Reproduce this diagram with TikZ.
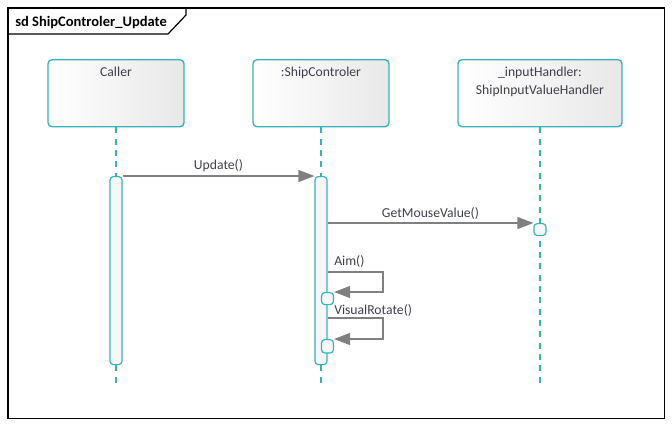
\documentclass[tikz,border=0pt]{standalone}
\usepackage{fontspec}
\setmainfont{Carlito}
\usetikzlibrary{arrows.meta,calc}
\definecolor{lifeteal}{RGB}{52,180,186}
\definecolor{msggray}{RGB}{128,128,128}
\definecolor{txtgray}{RGB}{64,64,76}
\tikzset{
  headbox/.style={draw=lifeteal, line width=1pt, rounded corners=3pt,
    left color=white, right color=black!9, minimum width=#1,
    minimum height=50.25pt, anchor=north, inner sep=0pt},
  headtext/.style={text=txtgray, font=\fontsize{10.25}{13.5}\selectfont, anchor=north, align=center, inner sep=0pt},
  actbox/.style={draw=lifeteal, line width=0.9pt, rounded corners=2.5pt,
    fill=black!3, minimum width=9pt, inner sep=0pt, anchor=north},
  lifeline/.style={draw=lifeteal, line width=1pt, dash pattern=on 4.5pt off 4pt},
  msg/.style={draw=msggray, line width=0.9pt, -{Triangle[length=12pt,width=9pt]}},
  msglabel/.style={text=txtgray, font=\fontsize{10.25}{12}\selectfont, inner sep=0pt, anchor=base}
}
\begin{document}
\begin{tikzpicture}[x=0.75pt,y=-0.75pt]
\useasboundingbox (0,0) rectangle (672,426);
% frame and its tab
\draw[line width=0.9pt] (8,8) rectangle (664.5,418.5);
\draw[line width=0.9pt] (8,34) -- (168,34) -- (186,15) -- (186,8);
\node[anchor=base west, inner sep=0pt, font=\bfseries\fontsize{10.9}{12}\selectfont] (title) at (15,26) {sd ShipControler\_Update};

% lifeline heads
\node[headbox=102pt] (caller) at (116,59) {};
\node[headbox=102pt] (ctrl) at (321,59) {};
\node[headbox=123pt] (input) at (540,59) {};
\node[headtext] (callerlbl) at ($(caller.north)+(0,8)$) {Caller};
\node[headtext] (ctrllbl) at ($(ctrl.north)+(0,8)$) {:ShipControler};
\node[headtext] (inputlbl) at ($(input.north)+(0,8)$) {\_inputHandler:\\ShipInputValueHandler};

% lifelines
\coordinate (callerend) at (116,385);
\coordinate (ctrlend) at (321,385);
\coordinate (inputend) at (540,385);
\draw[lifeline] (caller.south) -- (callerend);
\draw[lifeline] (ctrl.south) -- (ctrlend);
\draw[lifeline] (input.south) -- (inputend);

% activations
\node[actbox, minimum height=141pt] (callact) at (116,176) {};
\node[actbox, minimum height=141pt] (ctrlact) at (321,176) {};
\node[actbox, minimum height=9pt] (inact) at (540,223) {};
\node[actbox, minimum height=9pt] (aimact) at (327.5,292) {};
\node[actbox, minimum height=10pt] (rotact) at (327.5,339) {};

% messages
\draw[msg] (callact.north east) -- (ctrlact.north west)
  node[msglabel, midway, yshift=5.25pt] (updlbl) {Update()};
\draw[msg] (ctrlact.east |- inact.north west) -- (inact.north west)
  node[msglabel, midway, yshift=4.5pt] (getlbl) {GetMouseValue()};
\draw[msg] (ctrlact.east |- 0,272) -- (383,272) -- (383,292) -- (aimact.north east);
\node[msglabel, anchor=base west] (aimlbl) at (334,265) {Aim()};
\draw[msg] (ctrlact.east |- 0,318) -- (383,318) -- (383,339) -- (rotact.north east);
\node[msglabel, anchor=base west] (rotlbl) at (334,314) {VisualRotate()};
\end{tikzpicture}
\end{document}
